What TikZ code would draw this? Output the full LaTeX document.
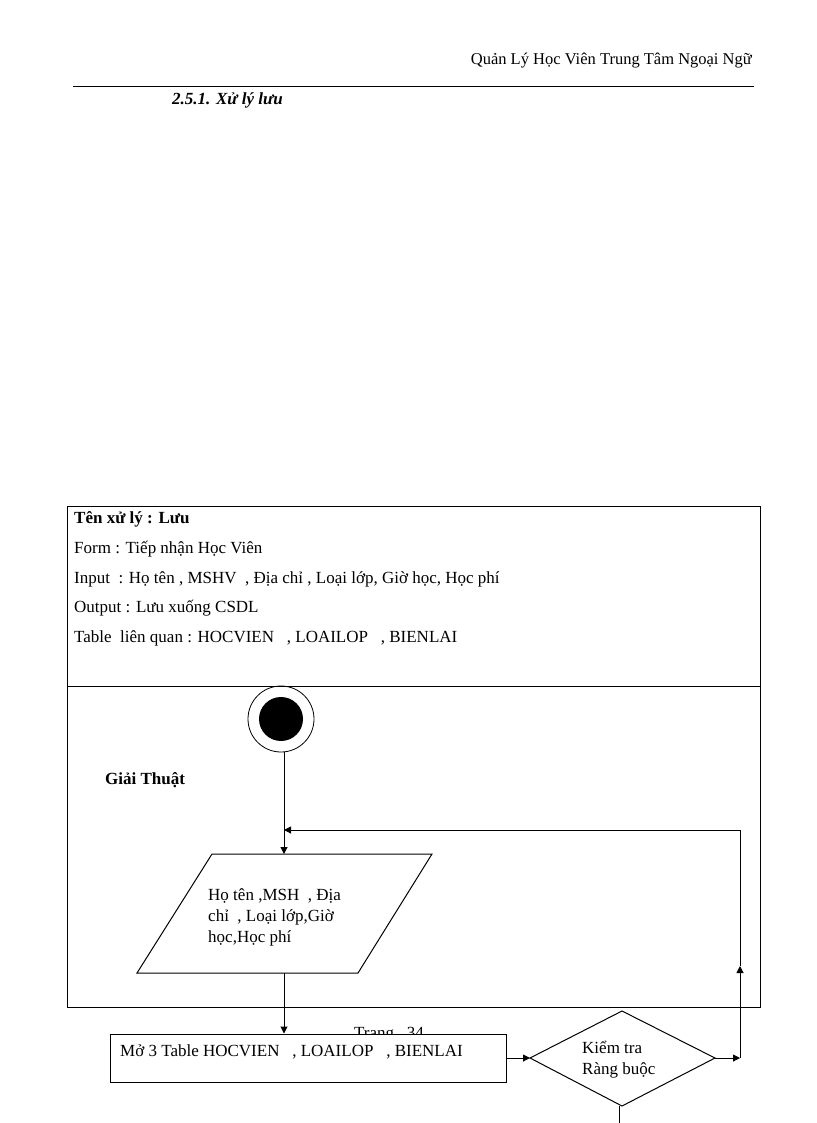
\documentclass[tikz,border=0pt]{standalone}
\usepackage{fontspec}
\setmainfont{Liberation Serif}
\usetikzlibrary{arrows.meta,shapes.geometric}
\begin{document}
\begin{tikzpicture}[x=1pt,y=-1pt,
  txt/.style={anchor=base west,inner sep=0pt,font=\fontsize{17}{20}\selectfont},
  ln/.style={draw=black,line width=1pt},
  arr/.style={ln,-{Triangle[length=7pt,width=7pt]}}]
\useasboundingbox (0,0) rectangle (816,1123);
\fill[white] (0,0) rectangle (816,1123);
% header
\node[txt,anchor=base east,font=\fontsize{16.5}{20}\selectfont] (hdr) at (752,65) {Quản Lý Học Viên Trung Tâm Ngoại Ngữ};
\draw[line width=0.8pt] (73,86) -- (754,86);
\node[txt,font=\fontsize{17}{20}\selectfont\bfseries\itshape] (sec) at (172,105) {2.5.1. Xử lý lưu};
% outer box
\draw[ln] (67,506) rectangle (760,1007);
\draw[ln] (67,686) -- (760,686);
\node[txt,font=\fontsize{17}{20}\selectfont\bfseries] (t1) at (74,523) {Tên xử lý\ : Lưu};
\node[txt] (t2) at (74,553) {Form : Tiếp nhận Học Viên};
\node[txt] (t3) at (74,583) {Input\ \ : Họ tên , MSHV\ \ , Địa chỉ , Loại lớp,\ Giờ học, Học phí};
\node[txt] (t4) at (74,612) {Output\ : Lưu xuống CSDL};
\node[txt] (t5) at (74,642) {Table\ \ liên quan\ : HOCVIEN\ \ \ , LOAILOP\ \ \ , BIENLAI};
\node[txt,font=\fontsize{17}{20}\selectfont\bfseries] (ga) at (105,784) {Giải Thuật};
% start
\draw[line width=0.8pt] (281,719) circle (33);
\fill (281,719) circle (22);
\coordinate (s) at (284,752);
% parallelogram
\coordinate (pt) at (284,854);
\draw[ln] (212,854) -- (432,854) -- (358,973) -- (137,973) -- cycle;
\node[txt] (p1) at (208,900) {Họ tên ,MSH\ \ , Địa};
\node[txt] (p2) at (208,921) {chỉ\ \ , Loại lớp,Giờ};
\node[txt] (p3) at (208,942) {học,Học phí};
\coordinate (pb) at (284,973);
\draw[arr] (s) -- (pt);
% Trang text
\node[txt] (trang) at (354,1038) {Trang\ \ \ 34};
% rectangle
\node[draw=black,line width=1pt,fill=white,minimum width=396pt,minimum height=48pt,inner sep=0pt] (rect) at (308,1058) {};
\node[txt] (rt) at (120,1056) {Mở 3 Table HOCVIEN\ \ \ , LOAILOP\ \ \ , BIENLAI};
\draw[arr] (pb) -- (rect.north -| pb);
% diamond
\draw[ln] (530,1058) coordinate (dl) -- (622,1011) -- (715,1058) coordinate (dr) -- (622,1106) coordinate (db) -- cycle;
\node[txt] (k1) at (582,1053) {Kiểm tra};
\node[txt] (k2) at (582,1074) {Ràng buộc};
\draw[arr] (rect.east) -- (dl);
\coordinate (c1) at (740,1058);
\coordinate (c2) at (740,966);
\coordinate (c3) at (740,830);
\coordinate (c4) at (284,830);
\draw[arr] (dr) -- (c1);
\draw[arr] (c1) -- (c2);
\draw[arr] (c2) -- (c3) -- (c4);
\coordinate (dbot) at (619,1123);
\draw[ln] (619,1106) -- (dbot);
\end{tikzpicture}
\end{document}
